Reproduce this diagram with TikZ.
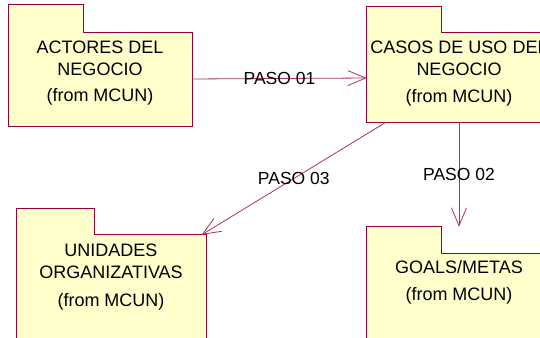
\documentclass[tikz,border=0pt]{standalone}
\usepackage{fontspec}
\setmainfont{Liberation Sans}
\usetikzlibrary{arrows.meta}
\definecolor{borde}{HTML}{990033}
\definecolor{linia}{HTML}{B0305A}
\definecolor{groc}{HTML}{FFFFCC}
\tikzset{
  paquet/.style={fill=groc, inner sep=0pt},
  vora/.style={draw=borde, line width=0.9pt},
  nom/.style={align=center, inner sep=0pt, font=\fontsize{18}{22}\selectfont},
  pas/.style={draw=linia, line width=0.8pt, -{Straight Barb[length=18pt,width=15pt]}},
  etiqueta/.style={inner sep=0pt, font=\fontsize{17.5}{21}\selectfont}
}
\begin{document}
\begin{tikzpicture}[x=1pt, y=-1pt]
    \clip (0,0) rectangle (540,337);
    % Paquets: pestanya i cos
    \node[paquet, minimum width=74pt, minimum height=28pt] (actoresTab) at (46,19) {};
    \node[paquet, minimum width=183pt, minimum height=93pt] (actores) at (100.5,79.5) {};
    \node[paquet, minimum width=74pt, minimum height=26pt] (casosTab) at (404,20) {};
    \node[paquet, minimum width=184pt, minimum height=89pt] (casos) at (459,77.5) {};
    \node[paquet, minimum width=77pt, minimum height=26pt] (unidadesTab) at (55.5,222) {};
    \node[paquet, minimum width=189pt, minimum height=110pt] (unidades) at (111.5,290) {};
    \node[paquet, minimum width=74pt, minimum height=27pt] (goalsTab) at (404,240.5) {};
    \node[paquet, minimum width=184pt, minimum height=91pt] (goals) at (459,299.5) {};
    \foreach \p in {actores, casos, unidades, goals}
        \draw[vora] (\p Tab.south west) |- (\p Tab.north east) |- (\p.north east) |- (\p.south west) -- cycle;
    % Textos
    \node[nom] (actoresNom) at (100,58) {ACTORES DEL\\NEGOCIO};
    \node[nom] (actoresFrom) at (100,97) {(from MCUN)};
    \node[nom] (casosNom) at (459,58.5) {CASOS DE USO DEL\\NEGOCIO};
    \node[nom] (casosFrom) at (459,98) {(from MCUN)};
    \node[nom] (unidadesNom) at (111,261) {UNIDADES\\ORGANIZATIVAS};
    \node[nom] (unidadesFrom) at (111,302) {(from MCUN)};
    \node[nom] (goalsNom) at (459,267) {GOALS/METAS};
    \node[nom] (goalsFrom) at (459,296) {(from MCUN)};
    % Fletxes
    \draw[pas] (actores) -- node[etiqueta] (pas01) {PASO 01} (casos);
    \draw[pas] (casos.south) -- node[etiqueta] (pas02) {PASO 02} (casos.south |- goalsTab.north);
    \draw[pas] (casos) -- node[etiqueta] (pas03) {PASO 03} (unidades);
\end{tikzpicture}
\end{document}
